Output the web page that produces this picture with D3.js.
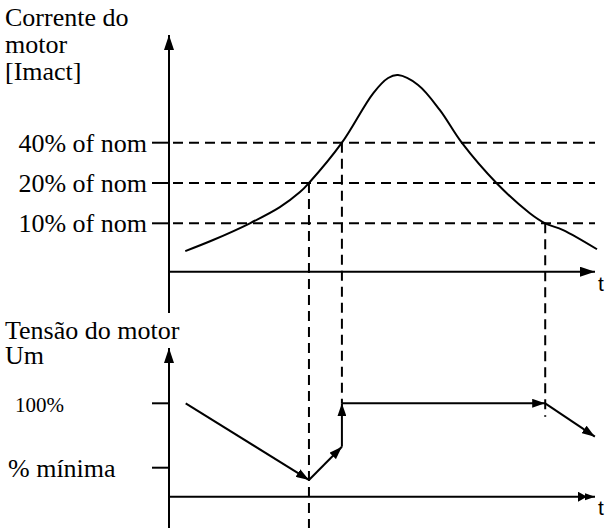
<!DOCTYPE html>
<html>
<head>
  <meta charset="utf-8">
  <script src="https://d3js.org/d3.v7.min.js"></script>
</head>
<body style="margin:0">
  <svg width="606" height="528" id="mainsvg"></svg>
  <script>
    // dados (t em unidades arbitrarias 0..100)
    const curT = [3.8, 10.3, 18.9, 25.9, 30.6, 32.7, 40.4, 47.7, 51.2, 53.5, 58.2, 63.3, 68.4, 76.5, 84.3, 87.9, 92.1, 100];
    const curPct = [6.2, 7.5, 10, 13.2, 17.1, 20, 40, 93.6, 121.7, 128, 108, 70, 40, 20, 11.9, 10, 8.9, 6.4];
    const curLevels = [40, 20, 10];
    const curLabels = ["40% of nom", "20% of nom", "10% of nom"];

    const voltT = [3.9, 32.7, 40.4, 40.4, 87.9, 99.5];
    const voltPct = [100, 40.5, 66.3, 100, 100, 74.1];
    const voltLevels = [100, 50];
    const voltLabels = ["100%", "% m\u00ednima"];

    const dropT = [32.7, 40.4, 87.9];      // onde a corrente cruza os niveis
    const dropLevel = [20, 40, 10];
    const dropEndVolt = [0, 100, 89.6];

    const titleTop = ["Corrente do", "motor", "[Imact]"];
    const titleBot = ["Tens\u00e3o do motor", "Um"];

    const serif = 'Times New Roman';
    const sans = 'Arial';

    const svg = d3.select('#mainsvg');

    const x = d3.scaleLinear().domain([0, 100]).range([169, 597]);
    const yCur = d3.scaleLog().domain([10, 40]).range([223.3, 142.7]);
    const yVolt = d3.scaleLinear().domain([50, 100]).range([467.7, 403.3]);

    const topAxisY = 271.7, botAxisY = 496.7;

    const defs = svg.append('defs');
    function marker(id, d, w, h) {
      defs.append('marker')
        .attr('id', id)
        .attr('markerUnits', 'userSpaceOnUse')
        .attr('viewBox', `0 0 ${w} ${h}`)
        .attr('markerWidth', w).attr('markerHeight', h)
        .attr('refX', w).attr('refY', h / 2)
        .attr('orient', 'auto')
        .append('path').attr('d', d).attr('fill', '#000');
    }
    marker('axArrow', 'M0,0 L15,5 L0,10 Z', 15, 10);
    marker('arr', 'M0,0 L13,4.5 L0,9 Z', 13, 9);
    marker('dbl', 'M0,0 L9,5 L0,10 Z M7,1.5 L17,5 L7,8.5 Z', 17, 10);

    // eixos
    const axes = svg.append('g').attr('stroke', '#000').attr('stroke-width', 2);
    axes.append('line').attr('x1', x(0)).attr('x2', x(0)).attr('y1', 313).attr('y2', 35)
      .attr('marker-end', 'url(#axArrow)');
    axes.append('line').attr('x1', x(0)).attr('x2', x(100) - 2).attr('y1', topAxisY).attr('y2', topAxisY)
      .attr('marker-end', 'url(#axArrow)');
    axes.append('line').attr('x1', x(0)).attr('x2', x(0)).attr('y1', 528).attr('y2', 348)
      .attr('marker-end', 'url(#axArrow)');
    axes.append('line').attr('x1', x(0)).attr('x2', x(100) - 2).attr('y1', botAxisY).attr('y2', botAxisY)
      .attr('marker-end', 'url(#dbl)');

    // niveis de corrente
    svg.selectAll('line.tick').data(curLevels).enter().append('line')
      .attr('class', 'tick')
      .attr('x1', 152).attr('x2', x(0)).attr('y1', d => yCur(d)).attr('y2', d => yCur(d))
      .attr('stroke', '#000').attr('stroke-width', 2);
    svg.selectAll('line.dash').data(curLevels).enter().append('line')
      .attr('class', 'dash')
      .attr('x1', x(0)).attr('x2', 595).attr('y1', d => yCur(d)).attr('y2', d => yCur(d))
      .attr('stroke', '#000').attr('stroke-width', 2).attr('stroke-dasharray', '10,6')
      .attr('stroke-dashoffset', -4);

    // niveis de tensao
    svg.selectAll('line.vtick').data(voltLevels).enter().append('line')
      .attr('class', 'vtick')
      .attr('x1', 152).attr('x2', x(0)).attr('y1', d => yVolt(d)).attr('y2', d => yVolt(d))
      .attr('stroke', '#000').attr('stroke-width', 2);

    // linhas verticais tracejadas
    svg.selectAll('line.drop').data(dropT).enter().append('line')
      .attr('class', 'drop')
      .attr('x1', d => x(d)).attr('x2', d => x(d))
      .attr('y1', (d, i) => yCur(dropLevel[i])).attr('y2', (d, i) => yVolt(dropEndVolt[i]))
      .attr('stroke', '#000').attr('stroke-width', 2).attr('stroke-dasharray', '10,6');

    // curva da corrente
    const curData = curT.map((t, i) => [t, curPct[i]]);
    svg.append('path')
      .attr('d', d3.line().x(d => x(d[0])).y(d => yCur(d[1])).curve(d3.curveCatmullRom.alpha(0.5))(curData))
      .attr('fill', 'none').attr('stroke', '#000').attr('stroke-width', 2);

    // tensao: segmentos com setas
    const segs = d3.pairs(voltT.map((t, i) => [t, voltPct[i]]));
    svg.selectAll('line.seg').data(segs).enter().append('line')
      .attr('class', 'seg')
      .attr('x1', d => x(d[0][0])).attr('y1', d => yVolt(d[0][1]))
      .attr('x2', d => x(d[1][0])).attr('y2', d => yVolt(d[1][1]))
      .attr('stroke', '#000').attr('stroke-width', 2)
      .attr('marker-end', 'url(#arr)');

    // textos (cada linha um <text> proprio)
    titleTop.forEach((s, i) =>
      svg.append('text').attr('x', 5).attr('y', 26 + i * 27)
        .attr('font-family', serif).attr('font-size', 26).text(s));
    titleBot.forEach((s, i) =>
      svg.append('text').attr('x', 5).attr('y', 339 + i * 25)
        .attr('font-family', serif).attr('font-size', 26).text(s));

    curLevels.forEach((d, i) =>
      svg.append('text').attr('x', 147).attr('y', yCur(d) + 9)
        .attr('text-anchor', 'end').attr('font-family', serif).attr('font-size', 26)
        .text(curLabels[i]));

    voltLevels.forEach((d, i) =>
      svg.append('text').attr('x', i === 0 ? 15 : 8).attr('y', yVolt(d) + 9)
        .attr('font-family', serif).attr('font-size', i === 0 ? 21 : 26)
        .text(voltLabels[i]));

    svg.append('text').attr('x', 598).attr('y', 291).attr('font-size', 21)
      .attr('font-family', sans).text('t');
    svg.append('text').attr('x', 598).attr('y', 515).attr('font-size', 21)
      .attr('font-family', sans).text('t');
  </script>
</body>
</html>
